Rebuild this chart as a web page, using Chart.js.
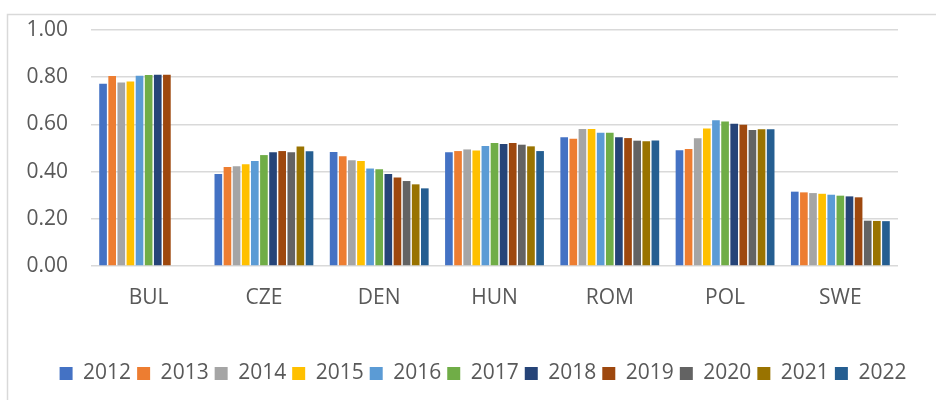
<!DOCTYPE html>
<html>
<head>
<meta charset="utf-8">
<script src="https://cdn.jsdelivr.net/npm/chart.js@4/dist/chart.umd.min.js"></script>
<style>
  html, body { margin: 0; padding: 0; background: #fff; }
  #wrap { width: 936px; height: 400px; position: relative; }
</style>
</head>
<body>
<div id="wrap"><canvas id="myChart" width="936" height="400"></canvas></div>
<script>
// countries on the x axis
const countries = ['BUL', 'CZE', 'DEN', 'HUN', 'ROM', 'POL', 'SWE']
const years = ['2012', '2013', '2014', '2015', '2016', '2017', '2018', '2019', '2020', '2021', '2022']
const yTicks = [0, 0.2, 0.4, 0.6, 0.8, 1.0]

// values per year, same order as countries (BUL has no data 2020-2022)
const v2012 = [0.772, 0.390, 0.483, 0.482, 0.546, 0.490, 0.315]
const v2013 = [0.805, 0.419, 0.465, 0.487, 0.539, 0.496, 0.312]
const v2014 = [0.778, 0.423, 0.448, 0.494, 0.580, 0.541, 0.309]
const v2015 = [0.782, 0.431, 0.445, 0.489, 0.580, 0.583, 0.306]
const v2016 = [0.806, 0.445, 0.413, 0.508, 0.565, 0.618, 0.302]
const v2017 = [0.809, 0.470, 0.410, 0.521, 0.565, 0.612, 0.298]
const v2018 = [0.810, 0.482, 0.390, 0.517, 0.546, 0.603, 0.295]
const v2019 = [0.810, 0.487, 0.375, 0.521, 0.542, 0.598, 0.291]
const v2020 = [null, 0.482, 0.360, 0.514, 0.531, 0.576, 0.192]
const v2021 = [null, 0.506, 0.346, 0.507, 0.529, 0.579, 0.191]
const v2022 = [null, 0.486, 0.329, 0.487, 0.532, 0.579, 0.190]

const seriesValues = [v2012, v2013, v2014, v2015, v2016, v2017, v2018, v2019, v2020, v2021, v2022]
const colors = ['#4472C4', '#ED7D31', '#A5A5A5', '#FFC000', '#5B9BD5', '#70AD47',
                '#264478', '#9E480E', '#636363', '#997300', '#255E91']

const fontFamily = '"Open Sans", "Liberation Sans", sans-serif'
const textColor = '#595959'
const gridColor = '#d9d9d9'

// light frame around the chart like the office chart box
const frame = {
    id: 'frame',
    beforeDraw: chart => {
        const ctx = chart.ctx
        ctx.save()
        ctx.strokeStyle = gridColor
        ctx.lineWidth = 1.5
        ctx.beginPath()
        ctx.moveTo(7.5, 400)
        ctx.lineTo(7.5, 14.5)
        ctx.lineTo(936, 14.5)
        ctx.stroke()
        ctx.restore()
    }
}

// legend in the reference sits a bit right of the canvas centre
const legendShift = {
    id: 'legendShift',
    afterLayout: chart => {
        chart.legend.left += 34
        chart.legend.right += 34
    }
}

const datasets = years.map((y, i) => ({
    label: y,
    data: seriesValues[i],
    backgroundColor: colors[i],
    borderWidth: 0,
    categoryPercentage: 0.87,
    barPercentage: 0.84
}))

new Chart(document.querySelector('#myChart'), {
    type: 'bar',
    data: { labels: countries, datasets: datasets },
    plugins: [frame, legendShift],
    options: {
        responsive: false,
        animation: false,
        layout: { padding: { left: 0, right: 38, top: 30, bottom: 6 } },
        scales: {
            x: {
                grid: { display: false, drawTicks: false },
                border: { display: false },
                ticks: { color: textColor, font: { family: fontFamily, size: 21 }, padding: 19 },
                afterFit: axis => { axis.height = 91 }
            },
            y: {
                min: 0,
                max: 1,
                afterBuildTicks: axis => { axis.ticks = yTicks.map(v => ({ value: v })) },
                grid: { color: gridColor, lineWidth: 1.5, drawTicks: true, tickLength: 23, tickColor: 'rgba(0,0,0,0)' },
                border: { display: false },
                ticks: {
                    color: textColor,
                    font: { family: fontFamily, size: 21 },
                    padding: 0,
                    callback: v => Number(v).toFixed(2)
                },
                afterFit: axis => { axis.width = 91 }
            }
        },
        plugins: {
            legend: {
                position: 'bottom',
                labels: {
                    color: textColor,
                    font: { family: fontFamily, size: 21 },
                    boxWidth: 13,
                    boxHeight: 13,
                    padding: 6
                }
            },
            tooltip: { enabled: false }
        }
    }
})
</script>
</body>
</html>
